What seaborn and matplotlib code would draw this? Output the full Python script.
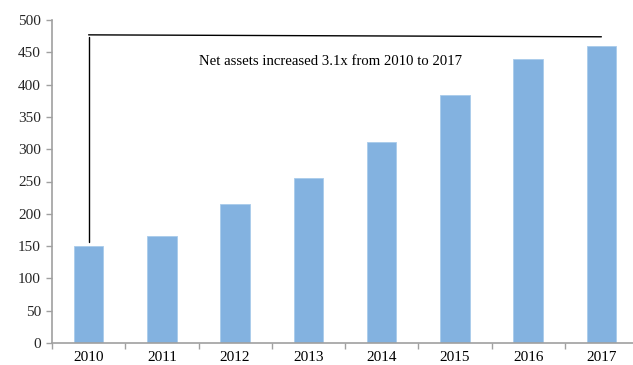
import matplotlib
matplotlib.use("Agg")
import matplotlib.pyplot as plt
import seaborn as sns
import pandas as pd

years = ["2010", "2011", "2012", "2013", "2014", "2015", "2016", "2017"]
net_assets = [150, 166, 215, 255, 311, 384, 439, 459]
annotation = "Net assets increased 3.1x from 2010 to 2017"

sns.set_theme(style="white")
plt.rcParams["font.family"] = ["Liberation Serif", "DejaVu Serif"]

df = pd.DataFrame({"year": years, "value": net_assets})

fig = plt.figure(figsize=(6.33, 3.65), dpi=100)
ax = fig.add_axes([52/633, 22/365, 586/633, 323/365])
sns.barplot(data=df, x="year", y="value", color="#83B2E0", width=0.4,
            saturation=1, ax=ax, edgecolor="#A9CBEB", linewidth=0.6)

ax.set_xlim(-0.5, 7.5)
ax.set_ylim(0, 500)
ax.set_yticks(range(0, 501, 50))
ax.set_xlabel("")
ax.set_ylabel("")

for s in ["top", "right"]:
    ax.spines[s].set_visible(False)
for s in ["left", "bottom"]:
    ax.spines[s].set_color("#A0A0A0")
    ax.spines[s].set_linewidth(1.2)

ax.set_xticks([i + 0.5 for i in range(-1, 8)], minor=False)
ax.set_xticklabels([])
ax.set_xticks(range(8), minor=True)
ax.set_xticklabels(years, minor=True)
ax.tick_params(axis="x", which="minor", length=0, pad=6, labelsize=11, colors="black")
ax.tick_params(axis="x", which="major", length=4, direction="out", color="#A0A0A0", width=1)
ax.tick_params(axis="y", length=4, direction="out", color="#A0A0A0", width=1, labelsize=11, pad=4)
ax.tick_params(axis="y", left=True)
ax.tick_params(axis="x", bottom=True, which="both")

# annotation lines
ax.plot([0, 7.0], [477, 474], color="black", linewidth=1.0)
ax.plot([0, 0], [473, 156], color="black", linewidth=1.0)
ax.text(3.3, 436, annotation, ha="center", va="center", fontsize=10.6, color="black")

fig.savefig("out.png", dpi=100)
